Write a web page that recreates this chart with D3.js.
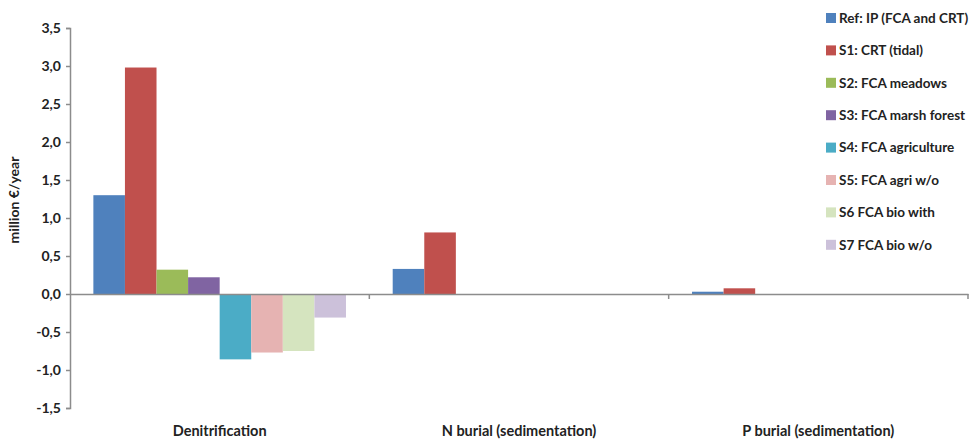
<!DOCTYPE html>
<html>
<head>
<meta charset="utf-8">
<script src="https://cdn.jsdelivr.net/npm/d3@7"></script>
<style>
  html, body { margin: 0; padding: 0; background: #fff; }
  text { font-family: Lato, "Noto Sans", sans-serif; fill: #222; }
</style>
</head>
<body>
<svg id="chart" width="977" height="439"></svg>
<script>
// Categories (x groups)
const categories = ["Denitrification", "N burial (sedimentation)", "P burial (sedimentation)"];

// Scenario names (legend order)
const scenarios = [
  "Ref: IP (FCA and CRT)",
  "S1: CRT (tidal)",
  "S2: FCA meadows",
  "S3: FCA marsh forest",
  "S4: FCA agriculture",
  "S5: FCA agri w/o",
  "S6 FCA bio with",
  "S7 FCA bio w/o"
];

// Values in million €/year, one array per category, in scenario order
const denitrification = [1.30, 2.98, 0.32, 0.22, -0.86, -0.77, -0.75, -0.31];
const nBurial         = [0.33, 0.81, 0, 0, 0, 0, 0, 0];
const pBurial         = [0.03, 0.075, 0, 0, 0, 0, 0, 0];

// Y-axis ticks
const yTicks = [-1.5, -1.0, -0.5, 0, 0.5, 1.0, 1.5, 2.0, 2.5, 3.0, 3.5];

const colors = ["#4F81BD", "#C0504D", "#9BBB59", "#8064A2", "#4BACC6", "#E6B3B2", "#D5E4BF", "#CCC1DA"];

const table = [denitrification, nBurial, pBurial];

const svg = d3.select("#chart");
const margin = { left: 70, right: 9, top: 28, bottom: 31 };
const plotW = 968 - margin.left;

const y = d3.scaleLinear().domain([-1.5, 3.5]).range([408, 28]);
const x0 = d3.scaleBand().domain(categories).range([margin.left, margin.left + plotW]).paddingInner(0).paddingOuter(0);
const x1 = d3.scaleBand().domain(scenarios).range([0, x0.bandwidth()]).paddingOuter(0.74).paddingInner(0);

const axisColor = "#8c8c8c";
const fmt = d => d3.format(".1f")(d).replace(".", ",").replace("−", "-");

// Bars
const groups = svg.append("g").selectAll("g")
  .data(categories)
  .join("g")
  .attr("transform", d => `translate(${x0(d)},0)`);

groups.selectAll("rect")
  .data((d, i) => table[i].map((v, j) => ({ s: scenarios[j], v, c: colors[j] })))
  .join("rect")
  .attr("x", d => x1(d.s))
  .attr("width", x1.bandwidth())
  .attr("y", d => y(Math.max(0, d.v)))
  .attr("height", d => Math.abs(y(d.v) - y(0)))
  .attr("fill", d => d.c);

// Y axis
const yAxis = svg.append("g")
  .attr("transform", `translate(${margin.left},0)`)
  .call(d3.axisLeft(y).tickValues(yTicks).tickFormat(fmt).tickSize(4).tickPadding(5));
yAxis.select(".domain").attr("stroke", axisColor).attr("stroke-width", 1.5);
yAxis.selectAll(".tick line").attr("stroke", axisColor).attr("stroke-width", 1.5);
yAxis.selectAll(".tick text")
  .style("font-family", "Lato, 'Noto Sans', sans-serif")
  .style("font-size", "14px").style("font-weight", "bold").attr("fill", "#222");

// X axis on zero line
const xAxis = svg.append("g")
  .attr("transform", `translate(0,${y(0)})`)
  .call(d3.axisBottom(x0).tickSize(0).tickFormat(""));
xAxis.select(".domain").attr("stroke", axisColor).attr("stroke-width", 1.5);

// Category separators below zero line
svg.append("g").selectAll("line")
  .data(categories)
  .join("line")
  .attr("x1", d => x0(d) + x0.bandwidth())
  .attr("x2", d => x0(d) + x0.bandwidth())
  .attr("y1", y(0))
  .attr("y2", y(0) + 5)
  .attr("stroke", axisColor)
  .attr("stroke-width", 1.5);

// Category labels
svg.append("g").selectAll("text")
  .data(categories)
  .join("text")
  .attr("x", d => x0(d) + x0.bandwidth() / 2)
  .attr("y", 436)
  .attr("text-anchor", "middle")
  .style("font-size", "14.5px")
  .style("font-weight", "bold")
  .text(d => d);

// Y axis title
svg.append("text")
  .attr("transform", `translate(19,${(y(3.5) + y(-1.5)) / 2 - 18}) rotate(-90)`)
  .attr("text-anchor", "middle")
  .style("font-size", "14px")
  .style("font-weight", "bold")
  .text("million €/year");

// Legend
const legend = svg.append("g").attr("transform", "translate(826,18)");
const items = legend.selectAll("g")
  .data(scenarios)
  .join("g")
  .attr("transform", (d, i) => `translate(0,${i * 32.4})`);
items.append("rect")
  .attr("x", 0).attr("y", -5).attr("width", 10).attr("height", 10)
  .attr("fill", (d, i) => colors[i]);
items.append("text")
  .attr("x", 13).attr("y", 0).attr("dy", "0.35em")
  .style("font-size", "13.5px")
  .style("font-weight", "bold")
  .text(d => d);
</script>
</body>
</html>
